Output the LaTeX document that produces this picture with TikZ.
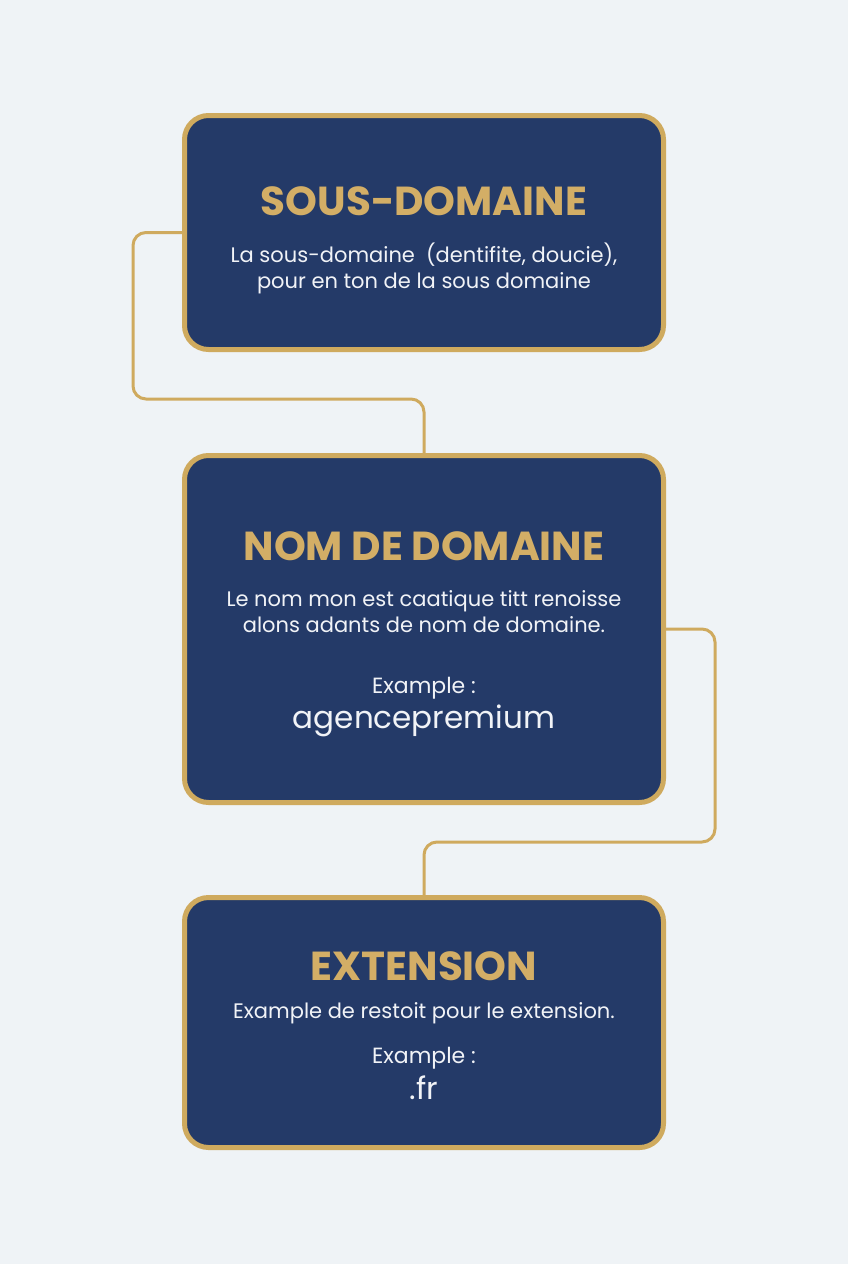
\documentclass[tikz,border=0pt]{standalone}
\usepackage{fontspec}
\setmainfont{Poppins}
\newfontfamily\titlefont{Poppins}[UprightFont=* Bold]
\usetikzlibrary{positioning}
\definecolor{bgc}{HTML}{EFF3F6}
\definecolor{navy}{HTML}{243A68}
\definecolor{gold}{HTML}{CFAA5E}
\definecolor{goldtxt}{HTML}{D3AE66}
\definecolor{bodytxt}{HTML}{F1F3F7}
\tikzset{
  card/.style={draw=gold, fill=navy, line width=5pt, rounded corners=24pt, inner sep=0pt},
  conn/.style={draw=gold, line width=3pt, rounded corners=13pt},
  ttl/.style={anchor=base, text=goldtxt, font=\titlefont\fontsize{40.5}{44}\selectfont},
  bodyt/.style={anchor=base, text=bodytxt, align=center, font=\fontsize{21}{26}\selectfont},
  exm/.style={anchor=base, text=bodytxt, font=\fontsize{22}{26}\selectfont},
  bigt/.style={anchor=base, text=bodytxt, font=\fontsize{31}{34}\selectfont}
}
\begin{document}
\begin{tikzpicture}[x=1pt,y=-1pt]
\path[fill=bgc] (0,0) rectangle (848,1264);
\useasboundingbox (0,0) rectangle (848,1264);
% cards
\node[card, minimum width=479pt, minimum height=234pt] (b1) at (424,232.5) {};
\node[card, minimum width=479pt, minimum height=347pt] (b2) at (424,629) {};
\node[card, minimum width=479pt, minimum height=250pt] (b3) at (424,1022.5) {};
% connectors
\coordinate (k1) at (133,399);
\coordinate (k2) at (715,842);
\draw[conn] (b1.west) -| (k1) -| (b2.north);
\draw[conn] (b2.east) -| (k2) -| (b3.north);
% texts card 1
\node[ttl] (t1) at (424,215) {SOUS-DOMAINE};
\node[bodyt] (d1a) at (424,262) {La sous-domaine~ (dentifite, doucie),};
\node[bodyt] (d1b) at (424,288) {pour en ton de la sous domaine};
% card 2
\node[ttl] (t2) at (424,560) {NOM DE DOMAINE};
\node[bodyt] (d2a) at (424,606) {Le nom mon est caatique titt renoisse};
\node[bodyt] (d2b) at (424,632) {alons adants de nom de domaine.};
\node[exm] (e2) at (424,693) {Example :};
\node[bigt] (v2) at (424,728) {agencepremium};
% card 3
\node[ttl] (t3) at (424,980) {EXTENSION};
\node[bodyt] (d3) at (424,1018) {Example de restoit pour le extension.};
\node[exm] (e3) at (424,1063) {Example :};
\node[bigt] (v3) at (424,1099) {.fr};
\end{tikzpicture}
\end{document}
